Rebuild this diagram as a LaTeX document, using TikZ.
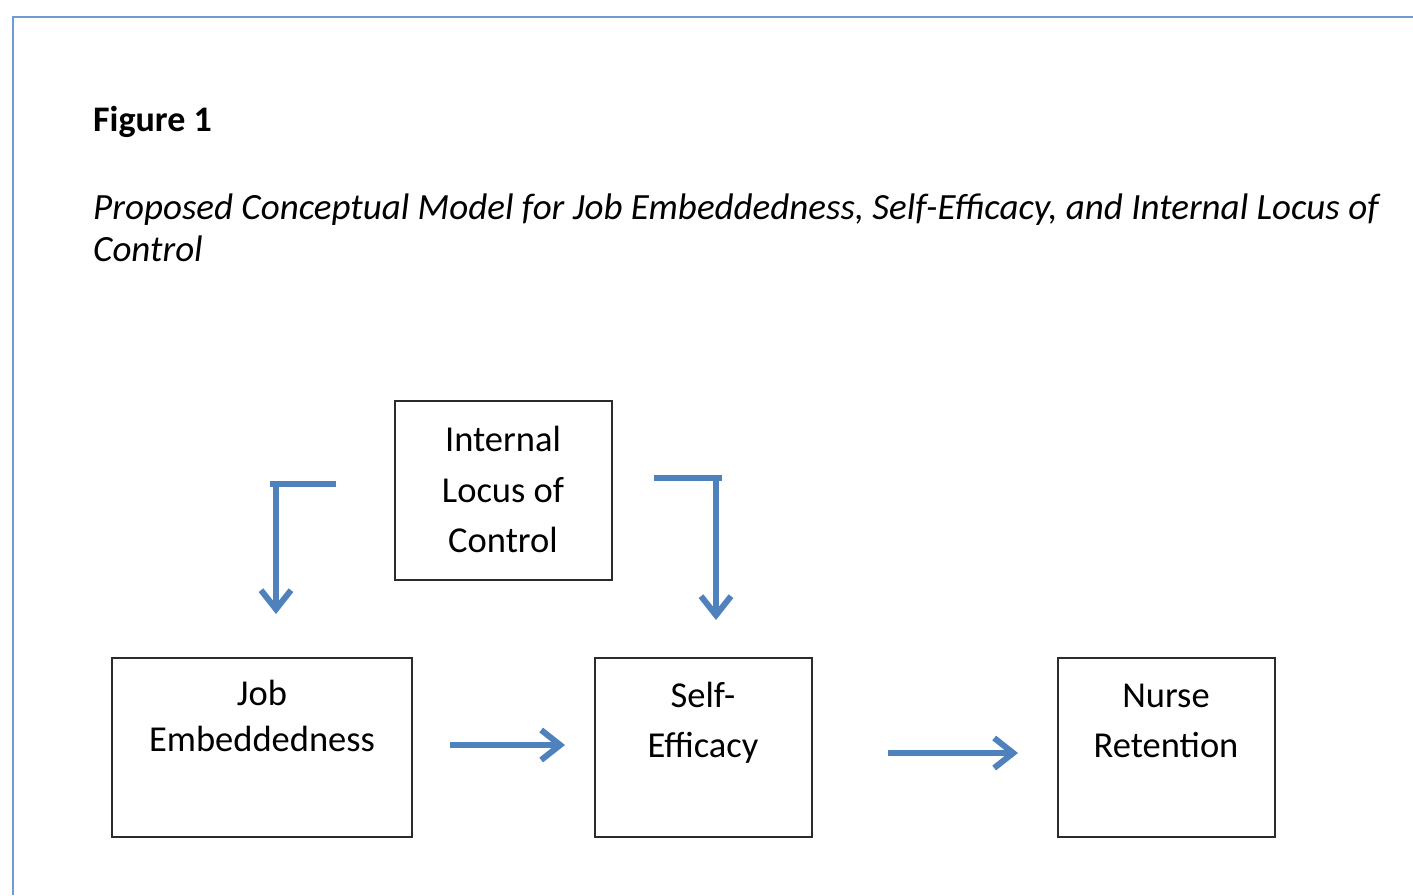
\documentclass[tikz,border=0pt]{standalone}
\usepackage{fontspec}
\setmainfont{Carlito}
\usetikzlibrary{arrows.meta}
\definecolor{frameblue}{HTML}{6F9BD1}
\definecolor{arrowblue}{HTML}{4F81BD}
\definecolor{boxline}{HTML}{2B2B2B}
\tikzset{
  box/.style={draw=boxline, line width=2pt, inner sep=0pt},
  boxtext/.style={anchor=base, align=center, inner sep=0pt, font=\fontsize{36.5}{50}\selectfont},
  flow/.style={draw=arrowblue, line width=5.5pt, -{Straight Barb[length=19pt,width=30pt,line width=6pt]}},
  bar/.style={draw=arrowblue, line width=5.5pt},
}
\begin{document}
\begin{tikzpicture}[x=1pt,y=-1pt]
\useasboundingbox (0,0) rectangle (1413,895);
% frame
\draw[frameblue, line width=2pt] (13,895) -- (13,17) -- (1413,17);
% titles
\node[anchor=base west, inner sep=0pt, font=\fontsize{36}{44}\bfseries] (fig) at (93,131) {Figure 1};
\node[anchor=base west, inner sep=0pt, font=\fontsize{37}{44}\itshape] (t1) at (93,219) {Proposed Conceptual Model for Job Embeddedness, Self-Efficacy, and Internal Locus of};
\node[anchor=base west, inner sep=0pt, font=\fontsize{37}{44}\itshape] (t2) at (93,261) {Control};
% boxes
\path[box] (395,401) rectangle (612,580);
\path[box] (112,658) rectangle (412,837);
\path[box] (595,658) rectangle (812,837);
\path[box] (1058,658) rectangle (1275,837);
% texts
\node[boxtext] (ilc1) at (503,451) {Internal};
\node[boxtext] (ilc2) at (503,502) {Locus of};
\node[boxtext] (ilc3) at (503,552) {Control};
\node[boxtext] (je1) at (262,705) {Job};
\node[boxtext] (je2) at (262,751) {Embeddedness};
\node[boxtext] (se1) at (703,707) {Self-};
\node[boxtext] (se2) at (703,757) {Efficacy};
\node[boxtext] (nr1) at (1166,707) {Nurse};
\node[boxtext] (nr2) at (1166,757) {Retention};
% arrows
\coordinate (la) at (336,484);
\coordinate (lb) at (276,484);
\coordinate (lc) at (276,614);
\coordinate (la0) at (270,484);
\draw[bar] (la0) -- (la);
\draw[flow] (lb) -- (lc);
\coordinate (ra) at (654,478);
\coordinate (rb) at (716,478);
\coordinate (rb0) at (722,478);
\coordinate (rc) at (716,620);
\draw[bar] (ra) -- (rb0);
\draw[flow] (rb) -- (rc);
\coordinate (h1a) at (450,745);
\coordinate (h1b) at (565,745);
\draw[flow] (h1a) -- (h1b);
\coordinate (h2a) at (888,753);
\coordinate (h2b) at (1018,753);
\draw[flow] (h2a) -- (h2b);
\end{tikzpicture}
\end{document}
